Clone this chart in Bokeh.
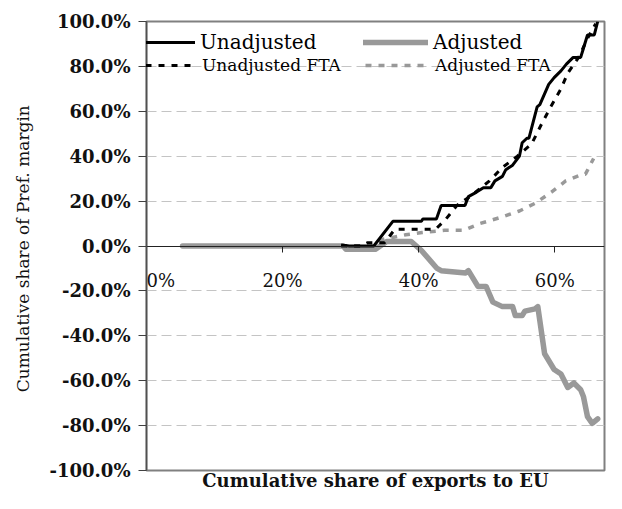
import numpy as np
from bokeh.plotting import figure
from bokeh.models import (FixedTicker, PrintfTickFormatter, Legend, LegendItem,
                          Range1d, LinearAxis)
from bokeh.embed import file_html
from bokeh.resources import INLINE

# ---- data (cumulative share of exports to EU, %; cumulative share of pref. margin, %) ----
unadj_x = [28.6, 29.8, 33.4, 36.2, 40.4, 40.6, 42.6, 43.3, 46.8, 47.3, 48.5, 49.5, 50.6, 51.2,
           52.3, 52.8, 53.8, 54.8, 55.2, 55.9, 56.2, 57.4, 57.8, 59.1, 59.9, 60.9, 61.7, 62.7,
           63.8, 64.2, 64.8, 65.8, 66.3]
unadj_y = [0.5, 0, 0, 11, 11, 12, 12, 18, 18, 22, 24, 26, 26, 29, 31, 34, 36, 40, 46, 48, 48,
           62, 63, 72, 75, 78, 81, 84, 84, 88, 94, 94, 100]

adj_x = [5.3, 28.9, 29.3, 33.6, 35.3, 38.9, 40.4, 42.7, 43.3, 46.9, 47.3, 48.7, 49.9, 50.9,
         52.3, 53.8, 54.2, 55.2, 55.6, 57.1, 57.5, 58.5, 59.9, 60.9, 61.9, 62.8, 63.8, 64.2,
         64.8, 65.5, 66.3]
adj_y = [0, 0, -1.5, -1.5, 2, 2, -2, -10, -11, -12, -11, -18, -18, -25, -27, -27, -31, -31,
         -29, -28, -27, -48, -55, -57, -63, -61, -64, -67, -76, -79, -77]

ufta_x = [28.6, 31.5, 32.5, 35.0, 36.5, 42.5, 44.0, 45.6, 47.5, 50.4, 52.3, 54.5, 56.6, 58.0,
          59.4, 60.9, 61.9, 63.5, 64.5, 64.9, 66.0]
ufta_y = [0, 0, 1.5, 1.5, 7.5, 7.5, 12, 18, 22, 29, 35, 40, 45.5, 54, 62, 70, 77, 84, 90.5,
          93, 99]

afta_x = [28.6, 33.0, 34.8, 38.1, 40.5, 43.8, 46.6, 49.0, 51.9, 54.8, 57.1, 59.5, 61.6, 64.1,
          64.5, 65.7]
afta_y = [0, 0, 3, 5, 6, 7, 7, 10, 12.6, 15.6, 19, 24, 29, 32, 32, 39]

x_ticks = [0, 20, 40, 60]
y_ticks = [-100, -80, -60, -40, -20, 0, 20, 40, 60, 80, 100]
grid_ticks = [-80, -60, -40, -20, 20, 40, 60, 80]

SERIF = "DejaVu Serif"
GRAY = "#999999"

p = figure(width=606, height=493, output_backend="svg", toolbar_location=None,
           x_range=Range1d(0, 67.3), y_range=Range1d(-100, 100),
           min_border_left=146, min_border_right=2, min_border_top=21, min_border_bottom=0)
p.background_fill_color = "white"
p.border_fill_color = "white"
p.outline_line_color = "#808080"
p.outline_line_width = 2

# grid
p.xgrid.visible = False
p.ygrid.ticker = FixedTicker(ticks=grid_ticks)
p.ygrid.grid_line_color = "#c4c4c4"
p.ygrid.grid_line_dash = "10 5"
p.ygrid.grid_line_width = 1

# y axis
p.yaxis.ticker = FixedTicker(ticks=y_ticks)
p.yaxis.formatter = PrintfTickFormatter(format="%.1f%%")
p.yaxis.major_tick_out = 8
p.yaxis.major_tick_in = 0
p.yaxis.minor_tick_line_color = None
p.yaxis.axis_line_color = "#505050"
p.yaxis.axis_line_width = 1.5
p.yaxis.major_tick_line_color = "#404040"
p.yaxis.major_label_standoff = 8
p.yaxis.major_label_text_font = SERIF
p.yaxis.major_label_text_font_size = "18px"
p.yaxis.major_label_text_font_style = "bold"
p.yaxis.major_label_text_color = "#111111"
p.yaxis.axis_label = "Cumulative share of Pref.  margin"
p.yaxis.axis_label_standoff = 14
p.yaxis.axis_label_text_font = SERIF
p.yaxis.axis_label_text_font_size = "17px"
p.yaxis.axis_label_text_font_style = "normal"
p.yaxis.axis_label_text_color = "#111111"

# x axis at y = 0
NBSP = "\u00a0"
p.xaxis.fixed_location = 0
p.xaxis.ticker = FixedTicker(ticks=x_ticks)
p.xaxis.formatter = PrintfTickFormatter(format="%d%%")
p.xaxis.major_label_overrides = {0: NBSP * 5 + "0%"}
p.xaxis.major_tick_out = 6
p.xaxis.major_tick_in = 0
p.xaxis.minor_tick_line_color = None
p.xaxis.axis_line_color = "#222222"
p.xaxis.axis_line_width = 1
p.xaxis.major_tick_line_color = "#222222"
p.xaxis.major_label_standoff = 18
p.xaxis.major_label_text_font = SERIF
p.xaxis.major_label_text_font_size = "18px"
p.xaxis.major_label_text_color = "#111111"

# x axis title: a tick-less axis below the frame
title_axis = LinearAxis(ticker=FixedTicker(ticks=[]), axis_line_color=None,
                        major_tick_line_color=None, minor_tick_line_color=None,
                        major_tick_out=0, major_tick_in=0, major_label_standoff=0,
                        major_label_text_font_size="0px",
                        axis_label="Cumulative share of exports to EU",
                        axis_label_standoff=-1, axis_label_text_font=SERIF,
                        axis_label_text_font_size="18px", axis_label_text_font_style="bold",
                        axis_label_text_color="#111111")
p.add_layout(title_axis, "below")

# series
r_adj = p.line(adj_x, adj_y, line_color=GRAY, line_width=5.5, line_join="round", line_cap="round")
r_afta = p.line(afta_x, afta_y, line_color=GRAY, line_width=3.5, line_dash="6 7")
r_ufta = p.line(ufta_x, ufta_y, line_color="black", line_width=3, line_dash="6 7")
r_unadj = p.line(unadj_x, unadj_y, line_color="black", line_width=3)

legends = []
def add_legend(label, rend, x, size):
    lg = Legend(items=[LegendItem(label=label, renderers=[rend])], location=(x, 0),
                orientation="horizontal", padding=0, margin=0, spacing=0,
                border_line_color=None, background_fill_alpha=0,
                glyph_width=65, glyph_height=20, label_height=20, label_standoff=5,
                label_text_font=SERIF, label_text_font_size=size, label_text_color="black")
    p.add_layout(lg, "center")
    legends.append(lg)

add_legend("Unadjusted", r_unadj, -16, "20px")
add_legend("Adjusted", r_adj, 217, "20px")
add_legend("Unadjusted FTA", r_ufta, -14, "17px")
add_legend("Adjusted FTA", r_afta, 219, "17px")

# legend rows ~22px and ~45px below the frame top
frame_h = 493 - 21 - 22
for lg, below_top, h in zip(legends, [22, 22, 45, 45], [24, 24, 20, 20]):
    lg.location = (lg.location[0], frame_h - below_top - h / 2)

open("out.html", "w").write(file_html(p, INLINE))
